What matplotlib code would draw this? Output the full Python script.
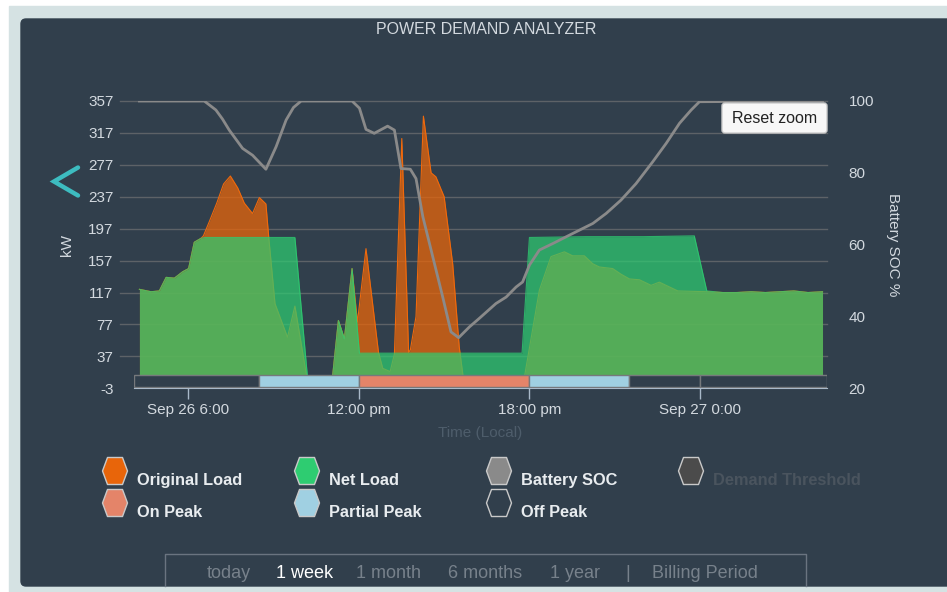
import matplotlib.pyplot as plt
from matplotlib.patches import Rectangle, FancyBboxPatch, Polygon

# hours since Sep 26 00:00
orig_h = [4.28, 4.69, 4.98, 5.22, 5.51, 5.80, 6.01, 6.21, 6.45, 6.53, 6.74, 7.0, 7.24, 7.48,
          7.74, 7.97, 8.26, 8.5, 8.73, 8.83, 9.05, 9.49, 9.75, 10.22, 11.04, 11.28, 11.49,
          11.76, 11.95, 12.25, 12.69, 12.84, 13.1, 13.25, 13.51, 13.75, 13.81, 14.01, 14.27,
          14.54, 14.71, 15.0, 15.3, 15.53, 15.71, 17.77, 18.35, 18.76, 19.23, 19.52, 19.93,
          20.23, 20.46, 20.93, 21.22, 21.52, 21.87, 22.28, 22.57, 23.22, 24.27, 24.8, 25.3,
          25.8, 26.3, 26.8, 27.3, 27.8, 28.31]
orig_kw = [121, 118, 119, 136, 135, 143, 147, 180, 185, 188, 206, 229, 253, 263,
           248, 229, 216, 236, 228, 186, 103, 61, 100, 0, 0, 82, 59,
           147, 80, 172, 42, 22, 18, 40, 310, 42, 45, 87, 338,
           267, 262, 237, 153, 49, 0, 0, 120, 162, 168, 163, 163,
           153, 149, 147, 140, 134, 133, 126, 130, 119, 118, 117, 117,
           118, 117, 118, 119, 117, 118]

net_h = [4.28, 4.69, 4.98, 5.22, 5.51, 5.80, 6.01, 6.21, 6.45, 6.6, 9.75, 10.22, 11.04,
         11.28, 11.49, 11.76, 12.02, 17.74, 18.0, 20.0, 22.0, 23.8, 24.24, 24.8, 25.3,
         25.8, 26.3, 26.8, 27.3, 27.8, 28.31]
net_kw = [121, 118, 119, 136, 135, 143, 147, 180, 185, 186, 186, 0, 0,
          82, 59, 147, 41, 41, 186, 187, 187, 188, 119, 117, 117,
          118, 117, 118, 119, 117, 118]

soc_h = [4.28, 6.56, 6.97, 7.2, 7.44, 7.91, 8.26, 8.73, 9.09, 9.44, 9.7, 9.97, 11.76, 12.02,
         12.25, 12.54, 13.01, 13.25, 13.48, 13.81, 14.01, 14.25, 14.6, 14.95, 15.24, 15.51,
         15.89, 16.24, 16.82, 17.18, 17.53, 17.76, 18.0, 18.35, 18.82, 19.52, 20.23, 20.7,
         21.22, 21.75, 22.34, 22.81, 23.28, 23.69, 23.98, 28.31]
soc = [100, 100, 97.5, 95, 91.9, 86.8, 84.9, 81, 87.3, 94.7, 98.2, 100, 100, 98,
       92.1, 91, 93, 91.9, 81.2, 81, 78.4, 67.8, 56.6, 45.4, 35.7, 34.1,
       37.1, 39.5, 43.6, 45.4, 48.2, 49.6, 54.3, 58.5, 60.3, 63.1, 65.9, 68.7,
       72.4, 77, 83.1, 88.2, 93.8, 97.5, 99.8, 100]

# tariff periods
band_start = [4.10, 8.5, 12, 18, 21.5, 24]
band_end = [8.5, 12, 18, 21.5, 24, 28.45]
band_kind = ['off', 'partial', 'on', 'partial', 'off', 'off']

kw_ticks = [-3, 37, 77, 117, 157, 197, 237, 277, 317, 357]
soc_ticks = [20, 40, 60, 80, 100]
x_ticks = [6, 12, 18, 24]
x_labels = ['Sep 26 6:00', '12:00 pm', '18:00 pm', 'Sep 27 0:00']

legend_names = ['Original Load', 'On Peak', 'Net Load', 'Partial Peak',
                'Battery SOC', 'Off Peak', 'Demand Threshold']
ranges = ['today', '1 week', '1 month', '6 months', '1 year', '|', 'Billing Period']

panel = '#313f4c'
label_c = '#d3d9df'
kind_color = {'off': panel, 'partial': '#a0d0e2', 'on': '#e48469'}
plt.rcParams['font.family'] = ['Liberation Sans', 'DejaVu Sans']
plt.rcParams['axes.unicode_minus'] = False

fig = plt.figure(figsize=(9.47, 5.92), dpi=100, facecolor='white')

# background panel
bg = fig.add_axes([0, 0, 1, 1], zorder=0)
bg.set_xlim(0, 947)
bg.set_ylim(592, 0)
bg.axis('off')
bg.add_patch(Rectangle((9, 6), 960, 600, color='#d5e2e3'))
bg.add_patch(FancyBboxPatch((21, 19), 940, 567, boxstyle='round,pad=0,rounding_size=5',
                            color=panel))

ax = fig.add_axes([134.3 / 947, 1 - 388.3 / 592, 692.2 / 947, 287.3 / 592], zorder=1)
ax.set_facecolor('none')
ax.set_xlim(4.10, 28.45)
ax.set_ylim(-3, 357)

for t in kw_ticks[1:]:
    ax.axhline(t, xmin=-0.0202, xmax=1, color='#5d6267', lw=1, clip_on=False, zorder=0.5)

ax.fill_between(orig_h, orig_kw, -3, color='#e8650a', alpha=0.75, lw=0, zorder=1)
ax.plot(orig_h, orig_kw, color='#f0690c', lw=0.8, zorder=1.1)
ax.fill_between(net_h, net_kw, -3, color='#2ecc71', alpha=0.72, lw=0, zorder=2)
ax.plot(net_h, net_kw, color='#2ecc71', lw=0.8, alpha=0.8, zorder=2.1)

for s, e, k in zip(band_start, band_end, band_kind):
    ax.add_patch(Rectangle((s, -1.2), e - s, 15.4, facecolor=kind_color[k],
                           edgecolor='#76797c', lw=1, zorder=3))

ax.set_yticks(kw_ticks)
ax.set_xticks(x_ticks)
ax.set_xticklabels(x_labels)
ax.tick_params(axis='y', length=0, pad=15, labelcolor=label_c, labelsize=11)
ax.tick_params(axis='x', length=8, width=1, color='#a9b9c9', pad=2.5,
               labelcolor=label_c, labelsize=11)
for side in ['top', 'left', 'right']:
    ax.spines[side].set_visible(False)
ax.spines['bottom'].set_color('#a9b9c9')
ax.set_ylabel('kW', color=label_c, fontsize=11)
ax.yaxis.set_label_coords(-0.087, 0.5)
ax.set_xlabel('Time (Local)', color='#4e5d6b', fontsize=11)
ax.xaxis.set_label_coords(0.5, -0.13)

ax2 = ax.twinx()
ax2.set_ylim(20, 100)
ax2.plot(soc_h, soc, color='#8a8a8a', lw=2, zorder=4)
ax2.set_yticks(soc_ticks)
ax2.tick_params(axis='y', length=0, pad=16, labelcolor=label_c, labelsize=11)
for side in ax2.spines:
    ax2.spines[side].set_visible(False)
ax2.set_ylabel('Battery SOC %', color=label_c, fontsize=11, rotation=-90)
ax2.yaxis.set_label_coords(1.106, 0.5)

# overlay: title, button, chevron, legend, range selector
ov = fig.add_axes([0, 0, 1, 1], zorder=3)
ov.set_xlim(0, 947)
ov.set_ylim(592, 0)
ov.axis('off')
ov.patch.set_visible(False)

ov.text(486, 30, 'POWER DEMAND ANALYZER', ha='center', va='center', color='#d3d9df',
        fontsize=11.5)
ov.add_patch(FancyBboxPatch((722, 103), 105, 30, boxstyle='round,pad=0,rounding_size=3',
                            facecolor='#f7f7f7', edgecolor='#cccccc', lw=1))
ov.text(774.5, 118.5, 'Reset zoom', ha='center', va='center', color='#222222', fontsize=11.5)
ov.plot([78, 54, 78], [167.5, 181.5, 195.5], color='#3dbcc0', lw=3.2,
        solid_capstyle='round', solid_joinstyle='miter')

hex_fill = ['#e8650a', '#e48469', '#2ecc71', '#a0d0e2', '#8a8a8a', panel, '#4b4b4b']
text_col = ['#e8ecef'] * 6 + ['#4a545e']
col_x = [115, 115, 307, 307, 499, 499, 691]
row_y = [471, 503, 471, 503, 471, 503, 471]
for name, fc, tc, cx, cy in zip(legend_names, hex_fill, text_col, col_x, row_y):
    verts = [(cx - 7.5, cy - 13.5), (cx + 7.5, cy - 13.5), (cx + 12.5, cy),
             (cx + 7.5, cy + 13.5), (cx - 7.5, cy + 13.5), (cx - 12.5, cy)]
    ov.add_patch(Polygon(verts, closed=True, facecolor=fc, edgecolor='#c9c9c9', lw=1,
                         joinstyle='round'))
    ov.text(cx + 22, cy + 9.5, name, ha='left', va='center', color=tc, fontsize=11.8,
            fontweight='bold')

ov.plot([165, 165, 806, 806], [586, 553.5, 553.5, 586], color='#6a7480', lw=1)
range_x = [207, 276, 356, 448, 550, 625, 652]
for r, rx in zip(ranges, range_x):
    ov.text(rx, 574, r, ha='left', va='center', fontsize=13,
            color='#ffffff' if r == '1 week' else '#77818b')

fig.savefig('out.png', dpi=100, facecolor='white')
